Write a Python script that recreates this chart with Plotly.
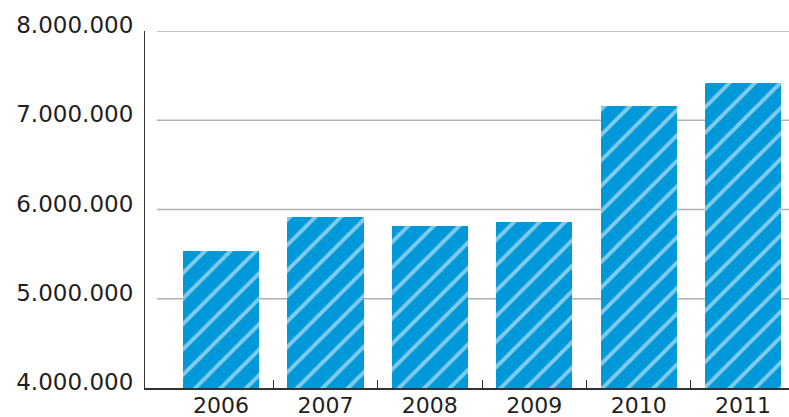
import plotly.graph_objects as go

years = [2006, 2007, 2008, 2009, 2010, 2011]
values = [5530000, 5915000, 5810000, 5860000, 7160000, 7415000]
y_ticks = [4000000, 5000000, 6000000, 7000000, 8000000]
y_tick_labels = ["4.000.000", "5.000.000", "6.000.000", "7.000.000", "8.000.000"]
boundaries = [2006.5, 2007.5, 2008.5, 2009.5, 2010.5]

BLUE = "#0098D8"
TEXT = "#231F20"
FONT = "DejaVu Sans"

fig = go.Figure()
fig.add_trace(go.Bar(
    x=years, y=values, width=0.73,
    marker=dict(color=BLUE, line=dict(width=0)),
    hoverinfo="skip", showlegend=False,
))
fig.add_trace(go.Bar(
    x=years, y=values, width=0.73, xaxis="x2",
    marker=dict(color="rgba(0,0,0,0)", line=dict(width=0),
                pattern=dict(shape="/", fgcolor="white", bgcolor="rgba(0,0,0,0)", size=18, solidity=0.22, fillmode="overlay")),
    hoverinfo="skip", showlegend=False,
))

xr = [2005.272, 2011.44]
shapes = [dict(type="line", xref="paper", yref="y", x0=12/644, x1=1, y0=v, y1=v,
               line=dict(color="#B0B0B0", width=1.5), layer="below") for v in y_ticks[1:]]

fig.update_layout(
    width=789, height=417,
    margin=dict(l=145, r=0, t=31, b=29),
    plot_bgcolor="white", paper_bgcolor="white",
    bargap=0,
    shapes=shapes,
    xaxis=dict(range=xr, tickvals=years, ticktext=[str(y) for y in years], automargin=False,
               showgrid=False, zeroline=False, showline=True, linecolor="#333333", linewidth=1.5,
               ticks="", tickfont=dict(family=FONT, size=22, color=TEXT), ticklabelstandoff=-3),
    xaxis2=dict(range=xr, overlaying="x", side="bottom", anchor="y", tickvals=boundaries, automargin=False,
                ticktext=["" for _ in boundaries], ticks="inside", ticklen=8, tickcolor="#333333",
                tickwidth=1.2, showgrid=False, zeroline=False, showline=False),
    yaxis=dict(range=[4000000, 8000000], tickvals=y_ticks, ticktext=y_tick_labels, automargin=False,
               showgrid=False, zeroline=False, showline=True, linecolor="#333333", linewidth=1.2,
               ticks="", tickfont=dict(family=FONT, size=23, color=TEXT),
               ticklabelstandoff=6, ticklabelshift=-6),
)
fig.write_html("out.html", config={"displayModeBar": False},
               post_script="document.body.style.margin='0';")
